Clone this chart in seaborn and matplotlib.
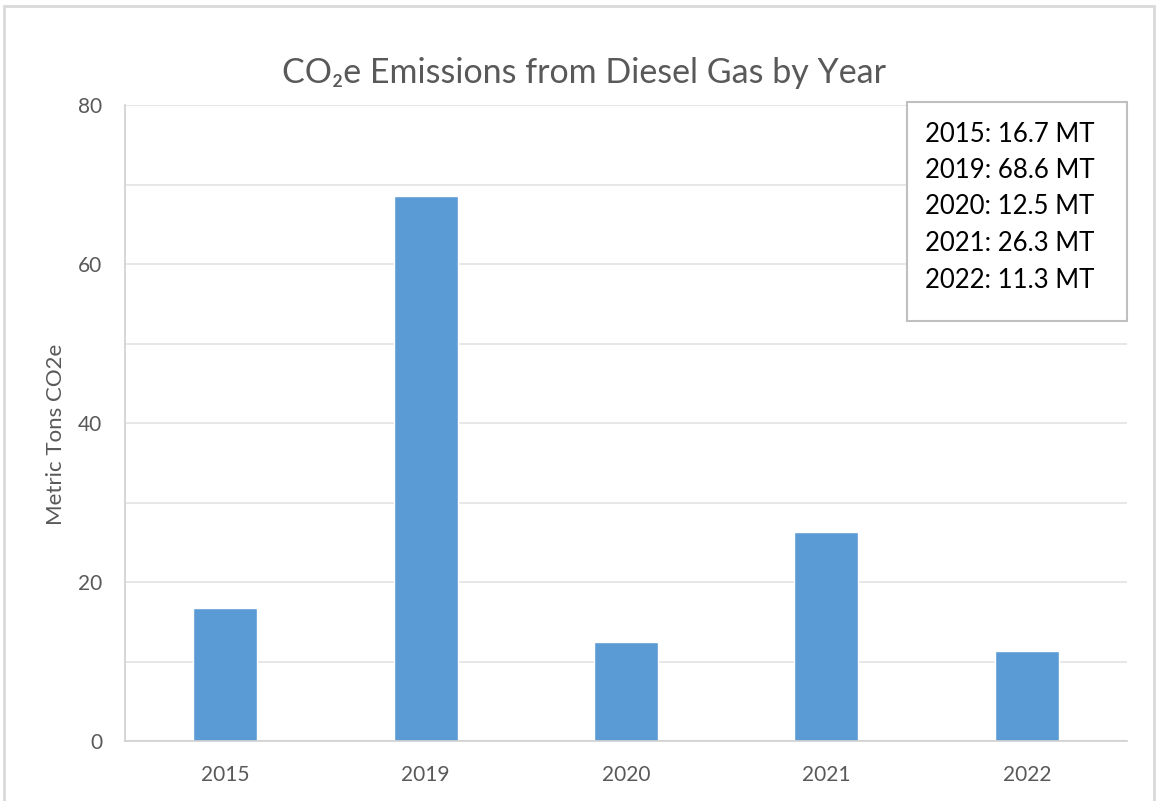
import matplotlib
matplotlib.use("Agg")
import matplotlib.pyplot as plt
from matplotlib.patches import Rectangle
import seaborn as sns
import pandas as pd

years = ["2015", "2019", "2020", "2021", "2022"]
emissions = [16.7, 68.6, 12.5, 26.3, 11.3]
y_ticks = [0, 20, 40, 60, 80]
title = "CO\u2082e Emissions from Diesel Gas by Year"
y_label = "Metric Tons CO2e"

sns.set_theme(style="white")
plt.rcParams["font.family"] = ["Lato", "DejaVu Sans"]

W, H = 1156, 801
fig = plt.figure(figsize=(W / 100, H / 100), dpi=100)
ax = fig.add_axes([125 / W, 1 - 741 / H, (1127 - 125) / W, (741 - 105) / H])

df = pd.DataFrame({"year": years, "value": emissions})
sns.barplot(data=df, x="year", y="value", color="#5B9BD5", saturation=1,
            width=0.32, ax=ax)

grey = "#595959"
ax.set_ylim(0, 80)
ax.set_xlim(-0.5, len(years) - 0.5)
ax.set_yticks(y_ticks)
ax.set_yticks(range(0, 81, 10), minor=True)
ax.grid(axis="y", which="both", color="#E3E3E3", linewidth=1.2, zorder=0)
ax.set_axisbelow(True)
ax.tick_params(axis="both", which="both", length=0, labelsize=15, colors=grey)
ax.tick_params(axis="y", pad=16.5)
ax.tick_params(axis="x", pad=17)
ax.set_xlabel("")
ax.set_ylabel(y_label, fontsize=16, color=grey)
ax.yaxis.set_label_coords((66 - 125) / 1002, (741 - 434) / 636)

for side in ["top", "right"]:
    ax.spines[side].set_visible(False)
for side in ["left", "bottom"]:
    ax.spines[side].set_color("#D0D0D0")
    ax.spines[side].set_linewidth(1.2)

fig.text(584 / W, 1 - 73 / H, title, ha="center", va="center",
         fontsize=24.5, color=grey)

# chart outer border (open at the bottom edge)
fig.add_artist(Rectangle((3.5 / W, -0.05), (1154 - 3.5) / W, 1.05 - 6.5 / H,
                         transform=fig.transFigure, fill=False,
                         edgecolor="#D9D9D9", linewidth=2))

# summary text box
fig.add_artist(Rectangle((907 / W, 1 - 321 / H), (1127 - 907) / W, (321 - 102) / H,
                         transform=fig.transFigure, facecolor="white",
                         edgecolor="#BFBFBF", linewidth=1.5, zorder=5))
for i, (yr, v) in enumerate(zip(years, emissions)):
    fig.text(925 / W, 1 - (134 + 36.5 * i) / H, f"{yr}: {v:.1f} MT",
             ha="left", va="center", fontsize=18.5, color="black", zorder=6)

fig.savefig("out.png", dpi=100, facecolor="white")
